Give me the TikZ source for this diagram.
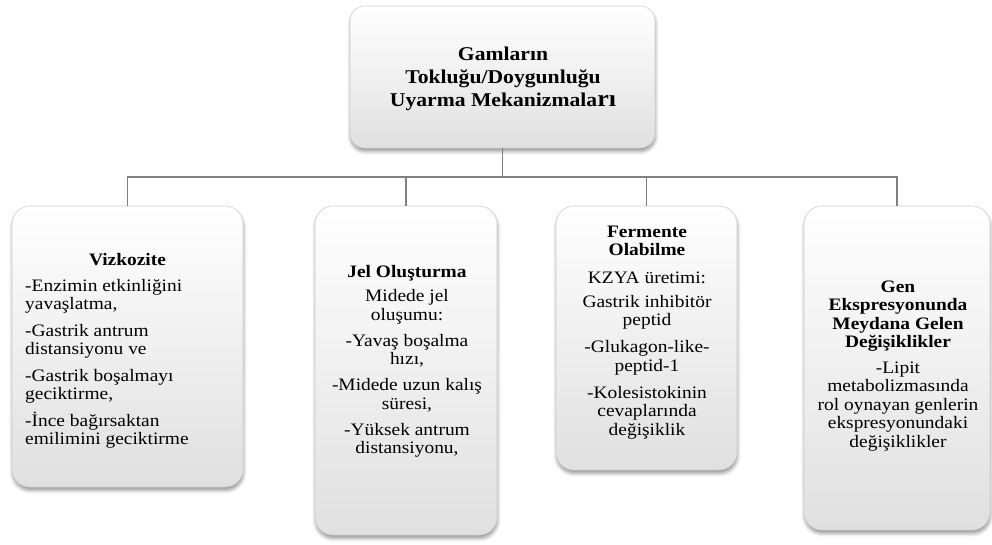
\documentclass[tikz,border=0pt]{standalone}
\usepackage{fontspec}
\setmainfont{Liberation Serif}[FakeStretch=1.11]
\usetikzlibrary{shadows.blur}
\definecolor{conn}{RGB}{128,128,128}
\definecolor{boxbot}{RGB}{224,224,224}
\definecolor{boxline}{RGB}{208,208,208}
\newcommand\fl[1]{\rule{0pt}{#1}}
\newcommand\tightlines{\lineskiplimit=-100pt\relax}
\tikzset{
  box/.style={rectangle, rounded corners=18pt, inner sep=0pt,
    top color=white, bottom color=boxbot, draw=boxline, line width=0.6pt,
    blur shadow={shadow xshift=0.5pt, shadow yshift=-3.5pt, shadow opacity=40, shadow blur radius=3.5pt}},
  conline/.style={draw=conn, line width=1.5pt},
  body/.style={inner sep=0pt, font=\tightlines\fontsize{17.5}{18.5}\selectfont, text=black},
}
\begin{document}
\begin{tikzpicture}[x=1pt, y=-1pt]
\useasboundingbox (0,0) rectangle (992,544);
% boxes
\node[box, rounded corners=15pt, minimum width=305pt, minimum height=142pt] (T) at (502.5,77) {};
\node[box, minimum width=231pt, minimum height=281pt] (B1) at (127.5,346.5) {};
\node[box, minimum width=182pt, minimum height=329pt] (B2) at (406,370.5) {};
\node[box, minimum width=181pt, minimum height=264pt] (B3) at (646.5,338) {};
\node[box, minimum width=186pt, minimum height=324pt] (B4) at (897,368) {};
% connectors
\coordinate (J) at (502.5,177);
\draw[conline] (T.south) -- (J);
\draw[conline] (J) -| (B1.north);
\draw[conline] (J) -| (B2.north);
\draw[conline] (J) -| (B3.north);
\draw[conline] (J) -| (B4.north);
% texts
\node[body, anchor=north, align=center, font=\tightlines\bfseries\fontsize{19.5}{23}\selectfont] (tT) at (503,45)
  {\fl{15pt}Gamların\\ Tokluğu/Doygunluğu\\ Uyarma Mekanizmala{\fontsize{23.5}{23}\selectfont rı}};
\node[body, anchor=north, align=center] (t1) at (127.5,251) {\fl{14pt}\textbf{Vizkozite}};
\node[body, anchor=north west, align=left] (b1) at (25,277)
  {\fl{14pt}-Enzimin etkinliğini\\ yavaşlatma,\\[8pt]
   -Gastrik antrum\\ distansiyonu ve\\[8pt]
   -Gastrik boşalmayı\\ geciktirme,\\[8pt]
   -İnce bağırsaktan\\ emilimini geciktirme};
\node[body, anchor=north, align=center] (t2) at (407,263)
  {\fl{14pt}\textbf{Jel Oluşturma}\\[6pt]
   Midede jel\\ oluşumu:\\[7.5pt]
   -Yavaş boşalma\\ hızı,\\[7.5pt]
   -Midede uzun kalış\\ süresi,\\[7.5pt]
   -Yüksek antrum\\ distansiyonu,};
\node[body, anchor=north, align=center] (t3) at (647,223)
  {\fl{14pt}\textbf{Fermente}\\ \textbf{Olabilme}\\[9pt]
   KZYA üretimi:\\[5.5pt]
   Gastrik inhibitör\\ peptid\\[8.5pt]
   -Glukagon-like-\\ peptid-1\\[8.5pt]
   -Kolesistokinin\\ cevaplarında\\ değişiklik};
\node[body, anchor=north, align=center] (t4) at (898,278)
  {\fl{14pt}\textbf{Gen}\\ \textbf{Ekspresyonunda}\\ \textbf{Meydana Gelen}\\ \textbf{Değişiklikler}\\[7pt]
   -Lipit\\ metabolizmasında\\ rol oynayan genlerin\\ ekspresyonundaki\\ değişiklikler};
\end{tikzpicture}
\end{document}
